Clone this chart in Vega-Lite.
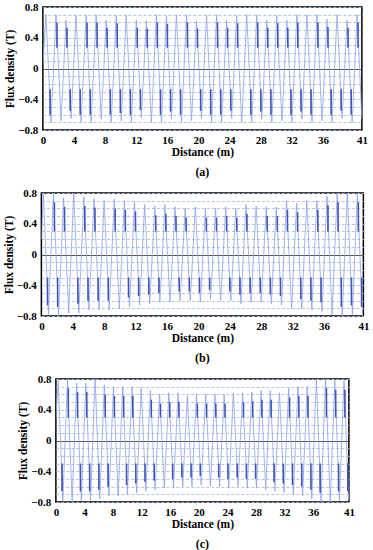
{
"$schema":"https://vega.github.io/schema/vega-lite/v6.json",
"padding":{"left":2,"top":0,"right":2,"bottom":0},
"background":"white",
"datasets":{
"wave":[
{"p":"a","x":0,"y":0.05},{"p":"a","x":0.4,"y":0.7},{"p":"a","x":1.05,"y":-0.7},{"p":"a","x":1.69,"y":0.7},{"p":"a","x":2.34,"y":-0.68},{"p":"a","x":2.98,"y":0.63},{"p":"a","x":3.63,"y":-0.65},{"p":"a","x":4.27,"y":0.69},{"p":"a","x":4.92,"y":-0.7},{"p":"a","x":5.56,"y":0.7},{"p":"a","x":6.21,"y":-0.7},{"p":"a","x":6.85,"y":0.7},{"p":"a","x":7.5,"y":-0.66},{"p":"a","x":8.14,"y":0.63},{"p":"a","x":8.79,"y":-0.7},{"p":"a","x":9.43,"y":0.69},{"p":"a","x":10.08,"y":-0.68},{"p":"a","x":10.72,"y":0.7},{"p":"a","x":11.37,"y":-0.7},{"p":"a","x":12.01,"y":0.63},{"p":"a","x":12.66,"y":-0.64},{"p":"a","x":13.3,"y":0.62},{"p":"a","x":13.95,"y":-0.7},{"p":"a","x":14.59,"y":0.7},{"p":"a","x":15.24,"y":-0.7},{"p":"a","x":15.88,"y":0.68},{"p":"a","x":16.53,"y":-0.66},{"p":"a","x":17.17,"y":0.7},{"p":"a","x":17.82,"y":-0.7},{"p":"a","x":18.46,"y":0.7},{"p":"a","x":19.11,"y":-0.68},{"p":"a","x":19.75,"y":0.62},{"p":"a","x":20.4,"y":-0.65},{"p":"a","x":21.04,"y":0.7},{"p":"a","x":21.69,"y":-0.7},{"p":"a","x":22.33,"y":0.7},{"p":"a","x":22.98,"y":-0.7},{"p":"a","x":23.62,"y":0.63},{"p":"a","x":24.27,"y":-0.65},{"p":"a","x":24.91,"y":0.69},{"p":"a","x":25.56,"y":-0.7},{"p":"a","x":26.2,"y":0.7},{"p":"a","x":26.85,"y":-0.7},{"p":"a","x":27.49,"y":0.7},{"p":"a","x":28.14,"y":-0.66},{"p":"a","x":28.78,"y":0.63},{"p":"a","x":29.43,"y":-0.7},{"p":"a","x":30.07,"y":0.69},{"p":"a","x":30.72,"y":-0.68},{"p":"a","x":31.36,"y":0.63},{"p":"a","x":32.01,"y":-0.7},{"p":"a","x":32.65,"y":0.7},{"p":"a","x":33.3,"y":-0.66},{"p":"a","x":33.94,"y":0.7},{"p":"a","x":34.59,"y":-0.7},{"p":"a","x":35.23,"y":0.7},{"p":"a","x":35.88,"y":-0.68},{"p":"a","x":36.52,"y":0.64},{"p":"a","x":37.17,"y":-0.7},{"p":"a","x":37.81,"y":0.7},{"p":"a","x":38.46,"y":-0.65},{"p":"a","x":39.1,"y":0.63},{"p":"a","x":39.75,"y":-0.7},{"p":"a","x":40.39,"y":0.7},{"p":"a","x":41,"y":-0.66},
{"p":"b","x":0,"y":0.2},{"p":"b","x":0.25,"y":0.8},{"p":"b","x":0.9,"y":-0.78},{"p":"b","x":1.54,"y":0.8},{"p":"b","x":2.19,"y":-0.8},{"p":"b","x":2.83,"y":0.74},{"p":"b","x":3.48,"y":-0.76},{"p":"b","x":4.12,"y":0.8},{"p":"b","x":4.77,"y":-0.76},{"p":"b","x":5.41,"y":0.75},{"p":"b","x":6.06,"y":-0.72},{"p":"b","x":6.7,"y":0.73},{"p":"b","x":7.35,"y":-0.72},{"p":"b","x":7.99,"y":0.7},{"p":"b","x":8.64,"y":-0.72},{"p":"b","x":9.28,"y":0.72},{"p":"b","x":9.93,"y":-0.7},{"p":"b","x":10.57,"y":0.7},{"p":"b","x":11.22,"y":-0.68},{"p":"b","x":11.86,"y":0.68},{"p":"b","x":12.51,"y":-0.66},{"p":"b","x":13.15,"y":0.65},{"p":"b","x":13.8,"y":-0.64},{"p":"b","x":14.44,"y":0.63},{"p":"b","x":15.09,"y":-0.62},{"p":"b","x":15.73,"y":0.65},{"p":"b","x":16.38,"y":-0.62},{"p":"b","x":17.02,"y":0.62},{"p":"b","x":17.67,"y":-0.6},{"p":"b","x":18.31,"y":0.6},{"p":"b","x":18.96,"y":-0.6},{"p":"b","x":19.6,"y":0.62},{"p":"b","x":20.25,"y":-0.62},{"p":"b","x":20.89,"y":0.6},{"p":"b","x":21.54,"y":-0.58},{"p":"b","x":22.18,"y":0.6},{"p":"b","x":22.83,"y":-0.6},{"p":"b","x":23.47,"y":0.62},{"p":"b","x":24.12,"y":-0.6},{"p":"b","x":24.76,"y":0.6},{"p":"b","x":25.41,"y":-0.64},{"p":"b","x":26.05,"y":0.65},{"p":"b","x":26.7,"y":-0.62},{"p":"b","x":27.34,"y":0.63},{"p":"b","x":27.99,"y":-0.62},{"p":"b","x":28.63,"y":0.62},{"p":"b","x":29.28,"y":-0.64},{"p":"b","x":29.92,"y":0.62},{"p":"b","x":30.57,"y":-0.66},{"p":"b","x":31.21,"y":0.7},{"p":"b","x":31.86,"y":-0.7},{"p":"b","x":32.5,"y":0.67},{"p":"b","x":33.15,"y":-0.7},{"p":"b","x":33.79,"y":0.7},{"p":"b","x":34.44,"y":-0.72},{"p":"b","x":35.08,"y":0.7},{"p":"b","x":35.73,"y":-0.74},{"p":"b","x":36.37,"y":0.76},{"p":"b","x":37.02,"y":-0.78},{"p":"b","x":37.66,"y":0.8},{"p":"b","x":38.31,"y":-0.8},{"p":"b","x":38.95,"y":0.8},{"p":"b","x":39.6,"y":-0.78},{"p":"b","x":40.24,"y":0.8},{"p":"b","x":40.89,"y":-0.8},{"p":"b","x":41,"y":-0.7},
{"p":"c","x":0,"y":0.3},{"p":"c","x":0.33,"y":0.78},{"p":"c","x":0.98,"y":-0.78},{"p":"c","x":1.62,"y":0.8},{"p":"c","x":2.27,"y":-0.8},{"p":"c","x":2.91,"y":0.75},{"p":"c","x":3.56,"y":-0.78},{"p":"c","x":4.2,"y":0.75},{"p":"c","x":4.85,"y":-0.78},{"p":"c","x":5.49,"y":0.8},{"p":"c","x":6.14,"y":-0.76},{"p":"c","x":6.78,"y":0.72},{"p":"c","x":7.43,"y":-0.72},{"p":"c","x":8.07,"y":0.7},{"p":"c","x":8.72,"y":-0.72},{"p":"c","x":9.36,"y":0.7},{"p":"c","x":10.01,"y":-0.7},{"p":"c","x":10.65,"y":0.7},{"p":"c","x":11.3,"y":-0.68},{"p":"c","x":11.94,"y":0.68},{"p":"c","x":12.59,"y":-0.66},{"p":"c","x":13.23,"y":0.65},{"p":"c","x":13.88,"y":-0.64},{"p":"c","x":14.52,"y":0.6},{"p":"c","x":15.17,"y":-0.62},{"p":"c","x":15.81,"y":0.62},{"p":"c","x":16.46,"y":-0.62},{"p":"c","x":17.1,"y":0.62},{"p":"c","x":17.75,"y":-0.6},{"p":"c","x":18.39,"y":0.58},{"p":"c","x":19.04,"y":-0.6},{"p":"c","x":19.68,"y":0.6},{"p":"c","x":20.33,"y":-0.58},{"p":"c","x":20.97,"y":0.6},{"p":"c","x":21.62,"y":-0.6},{"p":"c","x":22.26,"y":0.6},{"p":"c","x":22.91,"y":-0.6},{"p":"c","x":23.55,"y":0.6},{"p":"c","x":24.2,"y":-0.62},{"p":"c","x":24.84,"y":0.62},{"p":"c","x":25.49,"y":-0.6},{"p":"c","x":26.13,"y":0.62},{"p":"c","x":26.78,"y":-0.62},{"p":"c","x":27.42,"y":0.63},{"p":"c","x":28.07,"y":-0.62},{"p":"c","x":28.71,"y":0.65},{"p":"c","x":29.36,"y":-0.64},{"p":"c","x":30.0,"y":0.65},{"p":"c","x":30.65,"y":-0.66},{"p":"c","x":31.29,"y":0.62},{"p":"c","x":31.94,"y":-0.68},{"p":"c","x":32.58,"y":0.68},{"p":"c","x":33.23,"y":-0.7},{"p":"c","x":33.87,"y":0.7},{"p":"c","x":34.52,"y":-0.72},{"p":"c","x":35.16,"y":0.7},{"p":"c","x":35.81,"y":-0.76},{"p":"c","x":36.45,"y":0.8},{"p":"c","x":37.1,"y":-0.8},{"p":"c","x":37.74,"y":0.8},{"p":"c","x":38.39,"y":-0.8},{"p":"c","x":39.03,"y":0.78},{"p":"c","x":39.68,"y":-0.78},{"p":"c","x":40.32,"y":0.78},{"p":"c","x":40.97,"y":-0.78},{"p":"c","x":41,"y":-0.7}
],
"dark":[
{"p":"a","x":1.81,"y":0.6,"y2":0.27},{"p":"a","x":3.1,"y":0.53,"y2":0.27},{"p":"a","x":5.68,"y":0.6,"y2":0.27},{"p":"a","x":6.97,"y":0.6,"y2":0.27},{"p":"a","x":8.26,"y":0.53,"y2":0.27},{"p":"a","x":9.55,"y":0.59,"y2":0.27},{"p":"a","x":12.13,"y":0.53,"y2":0.27},{"p":"a","x":13.42,"y":0.52,"y2":0.27},{"p":"a","x":14.71,"y":0.6,"y2":0.27},{"p":"a","x":16.0,"y":0.58,"y2":0.27},{"p":"a","x":18.58,"y":0.6,"y2":0.27},{"p":"a","x":19.87,"y":0.52,"y2":0.27},{"p":"a","x":22.45,"y":0.6,"y2":0.27},{"p":"a","x":23.74,"y":0.53,"y2":0.27},{"p":"a","x":25.03,"y":0.59,"y2":0.27},{"p":"a","x":27.61,"y":0.6,"y2":0.27},{"p":"a","x":28.9,"y":0.53,"y2":0.27},{"p":"a","x":30.19,"y":0.59,"y2":0.27},{"p":"a","x":31.48,"y":0.53,"y2":0.27},{"p":"a","x":32.77,"y":0.6,"y2":0.27},{"p":"a","x":35.35,"y":0.6,"y2":0.27},{"p":"a","x":36.64,"y":0.54,"y2":0.27},{"p":"a","x":39.22,"y":0.53,"y2":0.27},{"p":"a","x":40.51,"y":0.6,"y2":0.27},
{"p":"a","x":0.93,"y":-0.27,"y2":-0.6},{"p":"a","x":3.51,"y":-0.27,"y2":-0.55},{"p":"a","x":4.8,"y":-0.27,"y2":-0.6},{"p":"a","x":6.09,"y":-0.27,"y2":-0.6},{"p":"a","x":8.67,"y":-0.27,"y2":-0.6},{"p":"a","x":9.96,"y":-0.27,"y2":-0.58},{"p":"a","x":11.25,"y":-0.27,"y2":-0.6},{"p":"a","x":12.54,"y":-0.27,"y2":-0.54},{"p":"a","x":15.12,"y":-0.27,"y2":-0.6},{"p":"a","x":16.41,"y":-0.27,"y2":-0.56},{"p":"a","x":17.7,"y":-0.27,"y2":-0.6},{"p":"a","x":20.28,"y":-0.27,"y2":-0.55},{"p":"a","x":21.57,"y":-0.27,"y2":-0.6},{"p":"a","x":22.86,"y":-0.27,"y2":-0.6},{"p":"a","x":24.15,"y":-0.27,"y2":-0.55},{"p":"a","x":26.73,"y":-0.27,"y2":-0.6},{"p":"a","x":28.02,"y":-0.27,"y2":-0.56},{"p":"a","x":29.31,"y":-0.27,"y2":-0.6},{"p":"a","x":31.89,"y":-0.27,"y2":-0.6},{"p":"a","x":33.18,"y":-0.27,"y2":-0.56},{"p":"a","x":34.47,"y":-0.27,"y2":-0.6},{"p":"a","x":37.05,"y":-0.27,"y2":-0.6},{"p":"a","x":38.34,"y":-0.27,"y2":-0.55},{"p":"a","x":39.63,"y":-0.27,"y2":-0.6},
{"p":"b","x":1.66,"y":0.68,"y2":0.3},{"p":"b","x":2.95,"y":0.62,"y2":0.3},{"p":"b","x":5.53,"y":0.63,"y2":0.3},{"p":"b","x":6.82,"y":0.61,"y2":0.3},{"p":"b","x":9.4,"y":0.6,"y2":0.3},{"p":"b","x":10.69,"y":0.58,"y2":0.3},{"p":"b","x":11.98,"y":0.56,"y2":0.3},{"p":"b","x":14.56,"y":0.51,"y2":0.3},{"p":"b","x":15.85,"y":0.53,"y2":0.3},{"p":"b","x":17.14,"y":0.5,"y2":0.3},{"p":"b","x":18.43,"y":0.48,"y2":0.3},{"p":"b","x":21.01,"y":0.48,"y2":0.3},{"p":"b","x":22.3,"y":0.48,"y2":0.3},{"p":"b","x":23.59,"y":0.5,"y2":0.3},{"p":"b","x":24.88,"y":0.48,"y2":0.3},{"p":"b","x":26.17,"y":0.53,"y2":0.3},{"p":"b","x":28.75,"y":0.5,"y2":0.3},{"p":"b","x":30.04,"y":0.5,"y2":0.3},{"p":"b","x":31.33,"y":0.58,"y2":0.3},{"p":"b","x":32.62,"y":0.55,"y2":0.3},{"p":"b","x":35.2,"y":0.58,"y2":0.3},{"p":"b","x":36.49,"y":0.64,"y2":0.3},{"p":"b","x":37.78,"y":0.68,"y2":0.3},{"p":"b","x":40.36,"y":0.68,"y2":0.3},
{"p":"b","x":0.78,"y":-0.3,"y2":-0.66},{"p":"b","x":2.07,"y":-0.3,"y2":-0.68},{"p":"b","x":4.65,"y":-0.3,"y2":-0.64},{"p":"b","x":5.94,"y":-0.3,"y2":-0.6},{"p":"b","x":7.23,"y":-0.3,"y2":-0.6},{"p":"b","x":8.52,"y":-0.3,"y2":-0.6},{"p":"b","x":11.1,"y":-0.3,"y2":-0.56},{"p":"b","x":12.39,"y":-0.3,"y2":-0.54},{"p":"b","x":13.68,"y":-0.3,"y2":-0.52},{"p":"b","x":14.97,"y":-0.3,"y2":-0.5},{"p":"b","x":17.55,"y":-0.3,"y2":-0.48},{"p":"b","x":18.84,"y":-0.3,"y2":-0.48},{"p":"b","x":20.13,"y":-0.3,"y2":-0.5},{"p":"b","x":21.42,"y":-0.3,"y2":-0.46},{"p":"b","x":24.0,"y":-0.3,"y2":-0.48},{"p":"b","x":25.29,"y":-0.3,"y2":-0.52},{"p":"b","x":26.58,"y":-0.3,"y2":-0.5},{"p":"b","x":27.87,"y":-0.3,"y2":-0.5},{"p":"b","x":29.16,"y":-0.3,"y2":-0.52},{"p":"b","x":30.45,"y":-0.3,"y2":-0.54},{"p":"b","x":33.03,"y":-0.3,"y2":-0.58},{"p":"b","x":34.32,"y":-0.3,"y2":-0.6},{"p":"b","x":35.61,"y":-0.3,"y2":-0.62},{"p":"b","x":38.19,"y":-0.3,"y2":-0.68},{"p":"b","x":39.48,"y":-0.3,"y2":-0.66},{"p":"b","x":40.77,"y":-0.3,"y2":-0.68},
{"p":"c","x":1.74,"y":0.68,"y2":0.3},{"p":"c","x":3.03,"y":0.63,"y2":0.3},{"p":"c","x":4.32,"y":0.63,"y2":0.3},{"p":"c","x":6.9,"y":0.6,"y2":0.3},{"p":"c","x":8.19,"y":0.58,"y2":0.3},{"p":"c","x":9.48,"y":0.58,"y2":0.3},{"p":"c","x":10.77,"y":0.58,"y2":0.3},{"p":"c","x":13.35,"y":0.53,"y2":0.3},{"p":"c","x":14.64,"y":0.48,"y2":0.3},{"p":"c","x":15.93,"y":0.5,"y2":0.3},{"p":"c","x":17.22,"y":0.5,"y2":0.3},{"p":"c","x":19.8,"y":0.48,"y2":0.3},{"p":"c","x":21.09,"y":0.48,"y2":0.3},{"p":"c","x":22.38,"y":0.48,"y2":0.3},{"p":"c","x":23.67,"y":0.48,"y2":0.3},{"p":"c","x":26.25,"y":0.5,"y2":0.3},{"p":"c","x":27.54,"y":0.51,"y2":0.3},{"p":"c","x":28.83,"y":0.53,"y2":0.3},{"p":"c","x":30.12,"y":0.53,"y2":0.3},{"p":"c","x":32.7,"y":0.56,"y2":0.3},{"p":"c","x":33.99,"y":0.58,"y2":0.3},{"p":"c","x":35.28,"y":0.58,"y2":0.3},{"p":"c","x":37.86,"y":0.68,"y2":0.3},{"p":"c","x":39.15,"y":0.66,"y2":0.3},{"p":"c","x":40.44,"y":0.66,"y2":0.3},
{"p":"c","x":0.86,"y":-0.3,"y2":-0.66},{"p":"c","x":3.44,"y":-0.3,"y2":-0.66},{"p":"c","x":4.73,"y":-0.3,"y2":-0.66},{"p":"c","x":6.02,"y":-0.3,"y2":-0.64},{"p":"c","x":7.31,"y":-0.3,"y2":-0.6},{"p":"c","x":9.89,"y":-0.3,"y2":-0.58},{"p":"c","x":11.18,"y":-0.3,"y2":-0.56},{"p":"c","x":12.47,"y":-0.3,"y2":-0.54},{"p":"c","x":13.76,"y":-0.3,"y2":-0.52},{"p":"c","x":16.34,"y":-0.3,"y2":-0.5},{"p":"c","x":17.63,"y":-0.3,"y2":-0.48},{"p":"c","x":18.92,"y":-0.3,"y2":-0.48},{"p":"c","x":20.21,"y":-0.3,"y2":-0.46},{"p":"c","x":22.79,"y":-0.3,"y2":-0.48},{"p":"c","x":24.08,"y":-0.3,"y2":-0.5},{"p":"c","x":25.37,"y":-0.3,"y2":-0.48},{"p":"c","x":26.66,"y":-0.3,"y2":-0.5},{"p":"c","x":27.95,"y":-0.3,"y2":-0.5},{"p":"c","x":30.53,"y":-0.3,"y2":-0.54},{"p":"c","x":31.82,"y":-0.3,"y2":-0.56},{"p":"c","x":33.11,"y":-0.3,"y2":-0.58},{"p":"c","x":34.4,"y":-0.3,"y2":-0.6},{"p":"c","x":35.69,"y":-0.3,"y2":-0.64},{"p":"c","x":36.98,"y":-0.3,"y2":-0.68},{"p":"c","x":39.56,"y":-0.3,"y2":-0.66},{"p":"c","x":40.85,"y":-0.3,"y2":-0.66}
]
},
"vconcat":[
{"width":319,"height":123,
 "title":{"text":"(a)","orient":"bottom","offset":9},
 "layer":[
  {"data":{"name":"wave"},"transform":[{"filter":"datum.p=='a'"}],
   "mark":{"type":"line","color":"#8d9fe4","strokeWidth":0.8,"clip":true},
   "encoding":{
    "x":{"field":"x","type":"quantitative","scale":{"domain":[0,41],"nice":false,"zero":false},"axis":{"values":[0,4,8,12,16,20,24,28,32,36,41],"tickCount":50,"title":"Distance (m)","grid":false}},
    "y":{"field":"y","type":"quantitative","scale":{"domain":[-0.8,0.8],"nice":false},"axis":{"title":"Flux density (T)","tickCount":50,"values":[-0.8,-0.7,-0.6,-0.5,-0.4,-0.3,-0.2,-0.1,0,0.1,0.2,0.3,0.4,0.5,0.6,0.7,0.8]}}}},
  {"data":{"name":"dark"},"transform":[{"filter":"datum.p=='a'"}],
   "mark":{"type":"rule","color":"#4254b8","strokeWidth":1.6},
   "encoding":{"x":{"field":"x","type":"quantitative"},"y":{"field":"y","type":"quantitative"},"y2":{"field":"y2"}}}
 ]},
{"width":322,"height":123,
 "title":{"text":"(b)","orient":"bottom","offset":9},
 "layer":[
  {"data":{"name":"wave"},"transform":[{"filter":"datum.p=='b'"}],
   "mark":{"type":"line","color":"#8d9fe4","strokeWidth":0.8,"clip":true},
   "encoding":{
    "x":{"field":"x","type":"quantitative","scale":{"domain":[0,41],"nice":false,"zero":false},"axis":{"values":[0,4,8,12,16,20,24,28,32,36,41],"tickCount":50,"title":"Distance (m)","grid":false}},
    "y":{"field":"y","type":"quantitative","scale":{"domain":[-0.8,0.8],"nice":false},"axis":{"title":"Flux density (T)","tickCount":50,"values":[-0.8,-0.7,-0.6,-0.5,-0.4,-0.3,-0.2,-0.1,0,0.1,0.2,0.3,0.4,0.5,0.6,0.7,0.8]}}}},
  {"data":{"name":"dark"},"transform":[{"filter":"datum.p=='b'"}],
   "mark":{"type":"rule","color":"#4254b8","strokeWidth":1.6},
   "encoding":{"x":{"field":"x","type":"quantitative"},"y":{"field":"y","type":"quantitative"},"y2":{"field":"y2"}}}
 ]},
{"width":293,"height":123,
 "title":{"text":"(c)","orient":"bottom","offset":9},
 "layer":[
  {"data":{"name":"wave"},"transform":[{"filter":"datum.p=='c'"}],
   "mark":{"type":"line","color":"#8d9fe4","strokeWidth":0.8,"clip":true},
   "encoding":{
    "x":{"field":"x","type":"quantitative","scale":{"domain":[0,41],"nice":false,"zero":false},"axis":{"values":[0,4,8,12,16,20,24,28,32,36,41],"tickCount":50,"title":"Distance (m)","grid":false}},
    "y":{"field":"y","type":"quantitative","scale":{"domain":[-0.8,0.8],"nice":false},"axis":{"title":"Flux density (T)","tickCount":50,"values":[-0.8,-0.7,-0.6,-0.5,-0.4,-0.3,-0.2,-0.1,0,0.1,0.2,0.3,0.4,0.5,0.6,0.7,0.8]}}}},
  {"data":{"name":"dark"},"transform":[{"filter":"datum.p=='c'"}],
   "mark":{"type":"rule","color":"#4254b8","strokeWidth":1.6},
   "encoding":{"x":{"field":"x","type":"quantitative"},"y":{"field":"y","type":"quantitative"},"y2":{"field":"y2"}}}
 ]}
],
"spacing":7,
"center":true,
"config":{
 "view":{"stroke":"#000","strokeWidth":1.5},
 "axis":{"labelFont":"Liberation Serif, Times New Roman, DejaVu Serif, serif","labelFontWeight":"bold","labelFontSize":11,"labelColor":"#000","titleFont":"Liberation Serif, Times New Roman, DejaVu Serif, serif","titleFontWeight":"bold","titleFontSize":11.5,"titleColor":"#000","domain":false,"ticks":false,"labelFlush":false,"labelOverlap":false,"labelBound":false},
 "axisX":{"labelPadding":4,"titlePadding":1},
 "axisY":{"labelPadding":5,"titlePadding":2,"grid":true,"gridDash":{"condition":{"test":"datum.value == 0","value":[]},"value":[3,2]},"gridColor":{"condition":{"test":"datum.value == 0","value":"#555555"},"value":"#a9c0e8"},"gridWidth":{"condition":{"test":"datum.value == 0","value":1},"value":0.9},"labelExpr":"round(datum.value*10) % 4 == 0 ? (datum.value == 0 ? '0' : format(datum.value, '.1f')) : ''"},
 "title":{"font":"Liberation Serif, Times New Roman, DejaVu Serif, serif","fontWeight":"bold","fontSize":12,"color":"#000"}
}
}
